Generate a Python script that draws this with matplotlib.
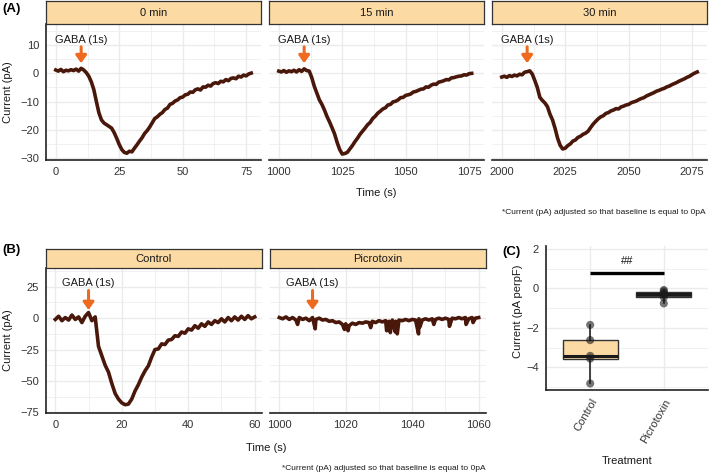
import matplotlib
matplotlib.use('Agg')
import matplotlib.pyplot as plt

plt.rcParams['font.family'] = ['Liberation Sans', 'DejaVu Sans']

# ---- data (A): GABA responses at 0, 15, 30 min ----
a_titles = ['0 min', '15 min', '30 min']
a_starts = [0, 1000, 2000]
a_gaba = [10, 1010, 2010]
a1_current = [1.2, 0.8, 1.4, 0.6, 1.1, 0.9, 1.3, 1.0, 1.5, 0.8,
              1.8, 1.2, 0.3, -1.0, -3.0, -5.8, -10.0, -14.0, -16.5, -17.6,
              -18.2, -18.8, -19.4, -21.0, -23.0, -25.2, -27.0, -28.0, -28.3, -27.6,
              -27.8, -26.5, -25.3, -24.0, -22.8, -21.3, -20.3, -19.0, -17.5, -16.0,
              -15.4, -14.5, -13.9, -12.8, -12.3, -11.0, -10.6, -9.8, -9.4, -8.6,
              -8.4, -7.6, -7.4, -6.6, -6.7, -5.8, -5.5, -5.9, -4.8, -4.9,
              -4.2, -4.5, -3.6, -3.3, -3.6, -2.8, -3.0, -2.2, -2.6, -1.8,
              -1.6, -1.9, -1.0, -1.3, -0.6, -0.9, -0.2, 0.1]
a2_current = [0.8, 0.5, 1.0, 0.4, 0.9, 0.6, 1.1, 0.5, 1.3, 0.7,
              1.6, 1.0, 0.8, -1.5, -4.6, -7.0, -9.4, -11.0, -13.0, -15.3,
              -17.2, -19.3, -21.5, -24.5, -27.0, -28.6, -28.4, -28.0, -26.8, -25.6,
              -24.2, -23.0, -21.6, -20.5, -19.4, -18.2, -17.4, -16.0, -15.2, -14.1,
              -13.4, -12.6, -12.2, -11.2, -11.0, -10.1, -9.9, -9.4, -8.6, -8.5,
              -7.8, -7.6, -7.3, -6.6, -6.4, -6.0, -5.6, -5.5, -4.8, -4.9,
              -4.2, -3.8, -3.9, -3.1, -2.9, -2.6, -2.2, -2.3, -1.6, -1.5,
              -1.2, -1.0, -0.9, -0.5, -0.6, -0.1, 0.0]
a3_current = [-1.3, -1.0, -1.4, -0.8, -1.1, -0.6, -0.9, -0.3, -0.5, 0.4,
              0.6, 0.9, -0.2, -2.5, -5.0, -8.5, -9.6, -10.5, -11.8, -14.5,
              -16.5, -19.5, -23.0, -25.5, -26.8, -26.5, -25.6, -25.0, -24.0, -23.6,
              -22.7, -22.3, -21.6, -21.2, -20.5, -19.2, -18.0, -17.0, -16.1, -15.4,
              -15.0, -14.2, -13.9, -13.3, -13.0, -12.5, -12.6, -11.9, -11.6, -11.2,
              -11.0, -10.4, -10.1, -9.8, -9.3, -8.9, -8.6, -8.0, -7.6, -7.2,
              -6.8, -6.3, -6.0, -5.6, -5.3, -4.8, -4.5, -4.0, -3.6, -3.2,
              -2.7, -2.3, -1.9, -1.4, -1.0, -0.4, 0.1, 0.5]

# ---- data (B): Control vs Picrotoxin ----
b_titles = ['Control', 'Picrotoxin']
b_gaba = [10, 1010]
b1_current = [-1.0, 1.5, -2.0, 0.5, -1.5, 2.5, -1.0, 1.0, -3.5, 1.5,
              4.5, -2.0, 1.0, -22.5, -30.0, -37.5, -43.0, -52.0, -60.0, -64.5,
              -67.5, -69.0, -68.5, -64.5, -58.0, -53.0, -47.0, -42.0, -38.0, -31.0,
              -25.0, -24.5, -20.5, -21.0, -17.5, -17.0, -14.0, -14.5, -11.0, -12.0,
              -8.5, -9.5, -6.0, -8.0, -4.5, -6.5, -3.0, -5.0, -2.0, -3.5,
              -0.5, -3.0, 0.5, -2.0, 1.0, -1.5, 1.5, -1.0, 2.0, -0.5, 1.0]
b2_trace = [(1000, 0.5), (1001, -0.5), (1002, 1.0), (1003, -1.0), (1004, 0.5),
            (1005, -1.5), (1005.5, -5.0), (1006, 0.5), (1007, -1.0), (1008, 0.0),
            (1009, -2.0), (1010, 0.5), (1010.8, -8.5), (1011, -1.0), (1012, 0.0),
            (1013, -1.5), (1014, -1.0), (1015, -2.5), (1016, -2.0), (1017, -3.5),
            (1018, -3.0), (1019, -5.0), (1019.6, -9.0), (1020, -4.5), (1020.7, -10.0),
            (1021, -6.0), (1022, -4.0), (1023, -5.0), (1024, -3.5), (1025, -4.0),
            (1026, -3.0), (1027, -3.5), (1027.5, -7.5), (1028, -2.5), (1029, -3.5),
            (1030, -2.0), (1031, -3.0), (1032, -2.0), (1032.3, -10.0), (1033, -2.5),
            (1033.4, -11.5), (1034, -1.5), (1034.9, -11.0), (1035, -2.5), (1035.5, -12.5),
            (1036, -1.5), (1037, -2.0), (1038, -1.0), (1039, -2.0), (1040, -1.0),
            (1041, -1.5), (1041.9, -12.5), (1042, -0.5), (1042.3, -7.0), (1043, -1.5),
            (1044, -0.5), (1045, -1.5), (1046, -0.5), (1046.5, -5.0), (1047, -1.0),
            (1048, 0.0), (1049, -1.0), (1050, 0.0), (1051, -1.0), (1051.2, -6.5),
            (1052, 0.0), (1053, -0.5), (1054, 0.5), (1055, -0.5), (1056, 0.5),
            (1056.2, -5.0), (1057, -0.5), (1058, 0.5), (1058.3, -3.5), (1059, 0.0),
            (1060, 0.5)]

# ---- data (C): current density per treatment ----
c_groups = ['Control', 'Picrotoxin']
c_control = [-1.85, -2.62, -3.42, -3.56, -4.82]
c_picrotoxin = [-0.08, -0.15, -0.25, -0.32, -0.45, -0.76]
c_sig_y = 0.78
c_sig_label = '##'

note = '*Current (pA) adjusted so that baseline is equal to 0pA'

W, H = 709, 474
STRIP = '#FCDAA3'
TRACE = '#4a170b'
ARROW = '#EE6A1F'
GRID = '#EBEBEB'
TXT = '#333333'


def box(x0, y0, x1, y1):
    return [x0 / W, 1 - y1 / H, (x1 - x0) / W, (y1 - y0) / H]


def style_panel(ax, first):
    for s in ['top', 'right']:
        ax.spines[s].set_visible(False)
    ax.spines['left'].set_visible(first)
    for s in ['left', 'bottom']:
        ax.spines[s].set_color('#222222')
        ax.spines[s].set_linewidth(1.2)
    ax.grid(which='major', color=GRID, lw=1.0)
    ax.grid(which='minor', color=GRID, lw=0.5)
    ax.set_axisbelow(True)
    ax.tick_params(which='both', length=0, labelsize=8, colors=TXT)
    ax.tick_params(axis='x', pad=5)
    ax.tick_params(axis='y', pad=5)
    if not first:
        ax.tick_params(labelleft=False)


def add_strip(x0, y0, x1, y1, title):
    s = fig.add_axes(box(x0, y0, x1, y1))
    s.set_facecolor(STRIP)
    s.set_xticks([])
    s.set_yticks([])
    for sp in s.spines.values():
        sp.set_color('#333333')
        sp.set_linewidth(0.9)
    s.text(0.5, 0.5, title, ha='center', va='center', fontsize=8, color='#1a1a1a',
           transform=s.transAxes)


def gaba_mark(ax, t, text_y, tail, tip):
    ax.text(t, text_y, 'GABA (1s)', ha='center', va='center', fontsize=8, color='#1a1a1a')
    ax.annotate('', xy=(t, tip), xytext=(t, tail),
                arrowprops=dict(arrowstyle='-|>,head_width=0.32,head_length=0.45',
                                lw=2.2, color=ARROW, shrinkA=0, shrinkB=0))


fig = plt.figure(figsize=(W / 100, H / 100), dpi=100)

# ---- row A ----
a_currents = [a1_current, a2_current, a3_current]
a_left = [46, 269, 492]
for i in range(3):
    x0 = a_left[i]
    ax = fig.add_axes(box(x0, 24, x0 + 215, 160))
    cur = a_currents[i]
    t = list(range(a_starts[i], a_starts[i] + len(cur)))
    ax.plot(t, cur, color=TRACE, lw=2.6, solid_joinstyle='round')
    ax.set_xlim(a_starts[i] - 3.85, a_starts[i] + 80.85)
    ax.set_ylim(-30.7, 17.5)
    ax.set_xticks([a_starts[i] + v for v in [0, 25, 50, 75]])
    ax.set_xticks([a_starts[i] + v for v in [12.5, 37.5, 62.5]], minor=True)
    ax.set_yticks([-30, -20, -10, 0, 10])
    ax.set_yticks([-25, -15, -5, 5, 15], minor=True)
    ax.set_yticklabels(['\u221230', '\u221220', '\u221210', '0', '10'])
    style_panel(ax, i == 0)
    gaba_mark(ax, a_gaba[i], 11.8, 9.4, 3.6)
    add_strip(x0, 1, x0 + 215, 24, a_titles[i])

fig.text(376 / W, 1 - 193 / H, 'Time (s)', ha='center', va='center', fontsize=8, color='#1a1a1a')
fig.text(8 / W, 1 - 92 / H, 'Current (pA)', ha='center', va='center', rotation=90,
         fontsize=8, color='#1a1a1a')
fig.text(706 / W, 1 - 213 / H, note, ha='right', va='center', fontsize=6, color='#1a1a1a')
fig.text(2 / W, 1 - 9 / H, '(A)', ha='left', va='center', fontsize=9.5, fontweight='bold')

# ---- row B ----
b2_time = [p[0] for p in b2_trace]
b2_current = [p[1] for p in b2_trace]
b_series = [(list(range(0, len(b1_current))), b1_current), (b2_time, b2_current)]
b_starts = [0, 1000]
b_left = [46, 270]
for i in range(2):
    x0 = b_left[i]
    ax = fig.add_axes(box(x0, 268, x0 + 216, 413))
    t, cur = b_series[i]
    ax.plot(t, cur, color=TRACE, lw=2.6, solid_joinstyle='round')
    ax.set_xlim(b_starts[i] - 2.8, b_starts[i] + 62.2)
    ax.set_ylim(-75.6, 40)
    ax.set_xticks([b_starts[i] + v for v in [0, 20, 40, 60]])
    ax.set_xticks([b_starts[i] + v for v in [10, 30, 50]], minor=True)
    ax.set_yticks([-75, -50, -25, 0, 25])
    ax.set_yticks([-62.5, -37.5, -12.5, 12.5, 37.5], minor=True)
    ax.set_yticklabels(['\u221275', '\u221250', '\u221225', '0', '25'])
    style_panel(ax, i == 0)
    gaba_mark(ax, b_gaba[i], 28.4, 22.0, 6.5)
    add_strip(x0, 249, x0 + 216, 268, b_titles[i])

fig.text(266 / W, 1 - 448 / H, 'Time (s)', ha='center', va='center', fontsize=8, color='#1a1a1a')
fig.text(8 / W, 1 - 340 / H, 'Current (pA)', ha='center', va='center', rotation=90,
         fontsize=8, color='#1a1a1a')
fig.text(486 / W, 1 - 468 / H, note, ha='right', va='center', fontsize=6, color='#1a1a1a')
fig.text(2 / W, 1 - 250 / H, '(B)', ha='left', va='center', fontsize=9.5, fontweight='bold')

# ---- panel C ----
ax = fig.add_axes(box(546, 246, 708, 390))
bp = ax.boxplot([c_control, c_picrotoxin], positions=[1, 2], widths=0.75,
                patch_artist=True, showcaps=False, showfliers=False,
                medianprops=dict(color='#1a1a1a', lw=2.2),
                whiskerprops=dict(color='#222222', lw=1.2),
                boxprops=dict(edgecolor='#333333', lw=1.0))
bp['boxes'][0].set_facecolor(STRIP)
bp['boxes'][1].set_facecolor('#3c3c3c')
for k, vals in enumerate([c_control, c_picrotoxin]):
    ax.scatter([k + 1] * len(vals), vals, s=34, color='#1a1a1a', alpha=0.6, zorder=4,
               edgecolors='none')
ax.plot([1, 2], [c_sig_y, c_sig_y], color='black', lw=2.4, solid_capstyle='butt')
ax.text(1.5, c_sig_y + 0.62, c_sig_label, ha='center', va='center', fontsize=8, color='#1a1a1a')
ax.set_xlim(0.4, 2.6)
ax.set_ylim(-5.15, 2.15)
ax.set_yticks([-4, -2, 0, 2])
ax.set_yticklabels(['\u22124', '\u22122', '0', '2'])
ax.set_yticks([-5, -3, -1, 1], minor=True)
ax.set_xticks([1, 2])
ax.set_xticklabels(c_groups, rotation=60, ha='right', va='top', rotation_mode='anchor')
style_panel(ax, True)
ax.grid(which='minor', axis='x', visible=False)
ax.set_xlabel('Treatment', fontsize=8, color='#1a1a1a', labelpad=8)
fig.text(518 / W, 1 - 311 / H, 'Current (pA perpF)', ha='center', va='center', rotation=90,
         fontsize=8, color='#1a1a1a')
fig.text(502 / W, 1 - 252 / H, '(C)', ha='left', va='center', fontsize=9.5, fontweight='bold')

fig.savefig('out.png', dpi=100, facecolor='white')
